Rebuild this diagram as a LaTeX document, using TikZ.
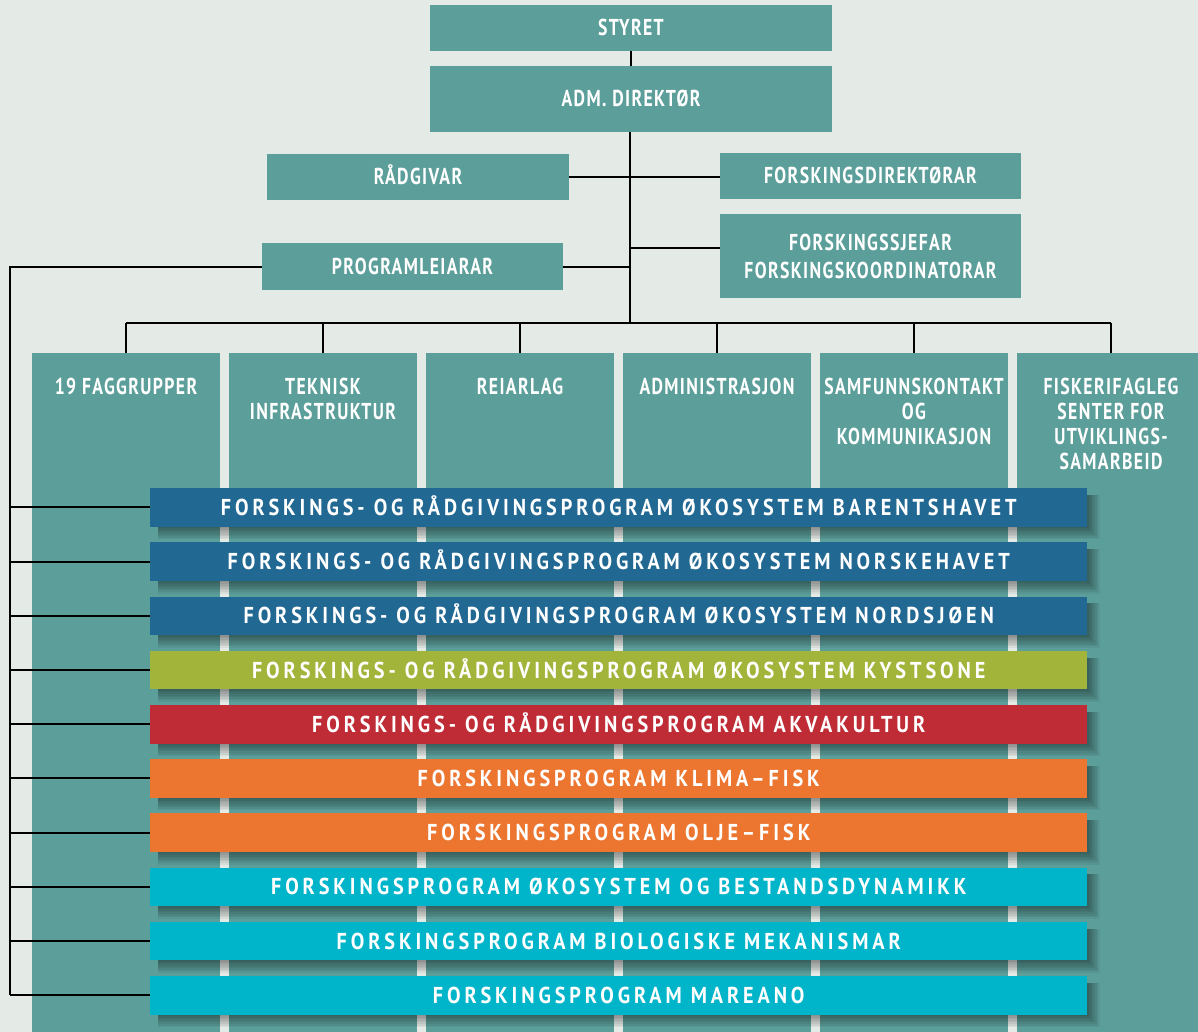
\documentclass[tikz,border=0pt]{standalone}
\usepackage{fontspec}
\setmainfont{PT Sans}
\newfontfamily\hdfont{PT Sans}[FakeStretch=0.77,LetterSpace=6]
\newfontfamily\barfont{PT Sans}[FakeStretch=0.88,LetterSpace=17]
\definecolor{bgc}{HTML}{E4EAE6}
\definecolor{tealc}{HTML}{5B9E9A}
\definecolor{bluec}{HTML}{216893}
\definecolor{greenc}{HTML}{A2B43A}
\definecolor{redc}{HTML}{C02C36}
\definecolor{orangec}{HTML}{EC7630}
\definecolor{cyanc}{HTML}{00B4C9}
\begin{document}
\begin{tikzpicture}[x=1pt,y=-1pt,
  box/.style={fill=tealc, text=white, inner sep=0pt, align=center,
    font=\hdfont\bfseries\fontsize{23}{28}\selectfont},
  colbox/.style={fill=tealc, inner sep=0pt, minimum width=188pt, minimum height=679pt, anchor=north west},
  coltext/.style={text=white, inner sep=0pt, align=center, anchor=north,
    font=\hdfont\bfseries\fontsize{23}{25}\selectfont},
  barbox/.style={text=white, inner sep=0pt, minimum width=937pt, minimum height=38.5pt,
    anchor=north west, text height=16pt, text depth=0pt,
    font=\barfont\bfseries\fontsize{23}{25}\selectfont},
  ln/.style={line width=2pt, black},
]
\useasboundingbox (0,0) rectangle (1198,1032);
\fill[bgc] (0,0) rectangle (1198,1032);

% top boxes
\node[box, minimum width=402pt, minimum height=46pt, text height=16pt, text depth=0pt] (styret) at (631,28) {STYRET};
\node[box, minimum width=402pt, minimum height=66pt, text height=16pt, text depth=0pt] (adm) at (631,99) {ADM. DIREKTØR};
\node[box, minimum width=302pt, minimum height=46pt, text height=16pt, text depth=0pt] (radg) at (418,177) {RÅDGIVAR};
\node[box, minimum width=301pt, minimum height=46pt, text height=16pt, text depth=0pt] (fdir) at (870.5,176) {FORSKINGSDIREKTØRAR};
\node[box, minimum width=301pt, minimum height=84pt] (fsjef) at (870.5,256) {FORSKINGSSJEFAR\\FORSKINGSKOORDINATORAR};
\node[box, minimum width=301pt, minimum height=47pt, text height=16pt, text depth=0pt] (prog) at (412.5,266.5) {PROGRAMLEIARAR};

% columns
\foreach \i/\t in {0/{19 FAGGRUPPER}, 1/{TEKNISK\\INFRASTRUKTUR}, 2/{REIARLAG},
  3/{ADMINISTRASJON}, 4/{SAMFUNNSKONTAKT\\OG\\KOMMUNIKASJON},
  5/{FISKERIFAGLEG\\SENTER FOR\\UTVIKLINGS-\\SAMARBEID}} {
  \node[colbox] (c\i) at ({32+197*\i},353) {};
  \node[coltext] (h\i) at ({126+197*\i},378) {\t};
}

% connectors top
\coordinate (bus) at (630,323);
\coordinate (j1) at (630,248);
\coordinate (lx) at (10,266.5);
\draw[ln] (styret.south) -- (adm.north);
\draw[ln] (adm.south -| bus) -- (bus);
\draw[ln] (radg.east) -- (radg.east -| fdir.west);
\draw[ln] (j1) -- (j1 -| fsjef.west);
\draw[ln] (prog.east) -- (prog.east -| bus);
\draw[ln] (bus -| c0.north) -- (bus -| c5.north);
\foreach \i in {0,...,5} { \draw[ln] (bus -| c\i.north) -- (c\i.north); }

% program bars
\foreach \i/\c/\t in {
  1/bluec/{FORSKINGS- OG RÅDGIVINGSPROGRAM ØKOSYSTEM BARENTSHAVET},
  2/bluec/{FORSKINGS- OG RÅDGIVINGSPROGRAM ØKOSYSTEM NORSKEHAVET},
  3/bluec/{FORSKINGS- OG RÅDGIVINGSPROGRAM ØKOSYSTEM NORDSJØEN},
  4/greenc/{FORSKINGS- OG RÅDGIVINGSPROGRAM ØKOSYSTEM KYSTSONE},
  5/redc/{FORSKINGS- OG RÅDGIVINGSPROGRAM AKVAKULTUR},
  6/orangec/{FORSKINGSPROGRAM KLIMA–FISK},
  7/orangec/{FORSKINGSPROGRAM OLJE–FISK},
  8/cyanc/{FORSKINGSPROGRAM ØKOSYSTEM OG BESTANDSDYNAMIKK},
  9/cyanc/{FORSKINGSPROGRAM BIOLOGISKE MEKANISMAR},
  10/cyanc/{FORSKINGSPROGRAM MAREANO}} {
  \pgfmathsetmacro\tp{488+54.2*(\i-1)}
  \foreach \k in {1,...,8} {
    \fill[black, opacity=0.055] (158,{\tp+7}) rectangle ({1087+1.6*\k},{\tp+38.5+1.6*\k});
  }
  \node[barbox, fill=\c] (b\i) at (150,\tp) {\t};
  \draw[ln] (b\i.west -| lx) -- (b\i.west);
}
\draw[ln] (prog.west) -- (prog.west -| lx) -- (lx |- b10.west);
\end{tikzpicture}
\end{document}
